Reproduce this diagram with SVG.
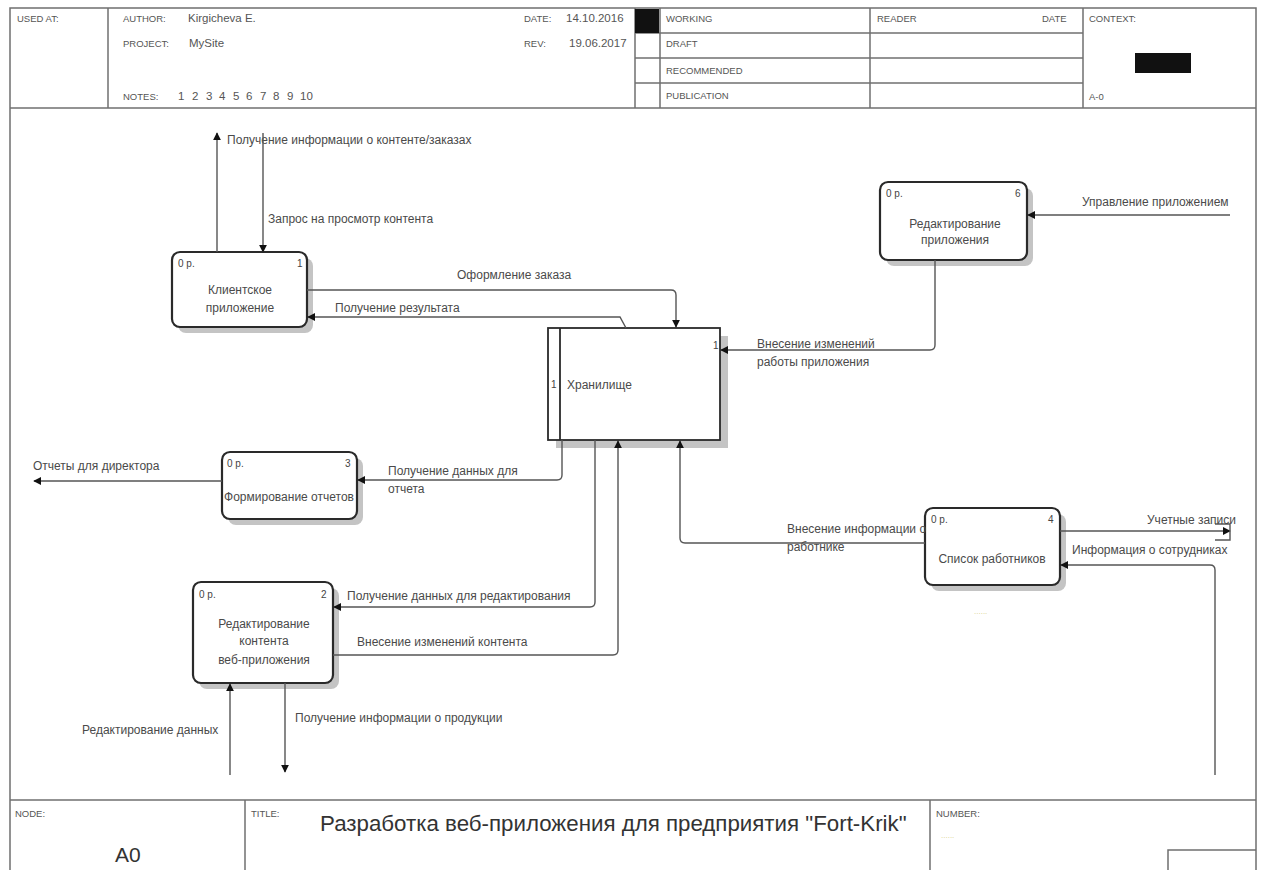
<svg xmlns="http://www.w3.org/2000/svg" width="1265" height="870" viewBox="0 0 1265 870">
  <style>
    .frame { fill: none; stroke: #6f6f6f; stroke-width: 1.5; }
    .hdr { font-family: "Liberation Sans", Arial, sans-serif; font-size: 9.5px; fill: #555; }
    .val { font-family: "Liberation Sans", Arial, sans-serif; font-size: 11.5px; fill: #555; }
    .lbl { font-family: "Liberation Sans", Arial, sans-serif; font-size: 12px; fill: #4a4a4a; }
    .box { fill: #fff; stroke: #2a2a2a; stroke-width: 2.2; }
    .shadow { fill: #c4c4c4; }
    .corner { font-family: "Liberation Sans", Arial, sans-serif; font-size: 10px; fill: #444; }
    .name { font-family: "Liberation Sans", Arial, sans-serif; font-size: 12px; fill: #4a4a4a; text-anchor: middle; }
    .wire { fill: none; stroke: #555; stroke-width: 1.4; }
    .tiny { font-family: "Liberation Sans", Arial, sans-serif; font-size: 8px; fill: #d8cf8a; }
  </style>
  <defs>
    <marker id="arrow" viewBox="0 0 10 10" refX="9" refY="5" markerWidth="8" markerHeight="8" orient="auto" markerUnits="userSpaceOnUse">
      <path d="M0,0 L10,5 L0,10 z" fill="#111"/>
    </marker>
  </defs>

  <rect width="1265" height="870" fill="#fff"/>

  <!-- frame, header and footer -->
  <g id="frame">
    <path class="frame" d="M10,870 V8 H1256 V870"/>
    <line class="frame" x1="10" y1="108" x2="1256" y2="108"/>
    <line class="frame" x1="108" y1="8" x2="108" y2="108"/>
    <line class="frame" x1="635" y1="8" x2="635" y2="108"/>
    <line class="frame" x1="660" y1="8" x2="660" y2="108"/>
    <line class="frame" x1="870" y1="8" x2="870" y2="108"/>
    <line class="frame" x1="1083" y1="8" x2="1083" y2="108"/>
    <line class="frame" x1="635" y1="33" x2="1083" y2="33"/>
    <line class="frame" x1="635" y1="58" x2="1083" y2="58"/>
    <line class="frame" x1="635" y1="83" x2="1083" y2="83"/>
    <rect x="635" y="9" width="24" height="24" fill="#111"/>
    <rect x="1135" y="53" width="56" height="20" fill="#111"/>

    <text class="hdr" x="17" y="22">USED AT:</text>
    <text class="hdr" x="123" y="22">AUTHOR:</text>
    <text class="val" x="188" y="22">Kirgicheva E.</text>
    <text class="hdr" x="123" y="47">PROJECT:</text>
    <text class="val" x="189" y="47">MySite</text>
    <text class="hdr" x="123" y="100">NOTES:</text>
    <g class="val">
      <text x="178" y="100">1</text><text x="192" y="100">2</text><text x="206" y="100">3</text>
      <text x="219" y="100">4</text><text x="233" y="100">5</text><text x="246" y="100">6</text>
      <text x="260" y="100">7</text><text x="273" y="100">8</text><text x="287" y="100">9</text>
      <text x="300" y="100">10</text>
    </g>
    <text class="hdr" x="524" y="22">DATE:</text>
    <text class="val" x="566" y="22">14.10.2016</text>
    <text class="hdr" x="524" y="47">REV:</text>
    <text class="val" x="569" y="47">19.06.2017</text>
    <text class="hdr" x="666" y="22">WORKING</text>
    <text class="hdr" x="666" y="47">DRAFT</text>
    <text class="hdr" x="666" y="74">RECOMMENDED</text>
    <text class="hdr" x="666" y="99">PUBLICATION</text>
    <text class="hdr" x="877" y="22">READER</text>
    <text class="hdr" x="1042" y="22">DATE</text>
    <text class="hdr" x="1089" y="22">CONTEXT:</text>
    <text class="hdr" x="1089" y="100">A-0</text>

    <line class="frame" x1="10" y1="800" x2="1256" y2="800"/>
    <line class="frame" x1="245" y1="800" x2="245" y2="870"/>
    <line class="frame" x1="930" y1="800" x2="930" y2="870"/>
    <path class="frame" d="M1168,870 V850 H1256"/>
    <text class="hdr" x="15" y="817">NODE:</text>
    <text x="115" y="862" font-family="Liberation Sans, Arial, sans-serif" font-size="21" fill="#333">A0</text>
    <text class="hdr" x="251" y="817">TITLE:</text>
    <text x="320" y="831" font-family="Liberation Sans, Arial, sans-serif" font-size="22.3" fill="#333">Разработка веб-приложения для предприятия "Fort-Krik"</text>
    <text class="hdr" x="936" y="817">NUMBER:</text>
    <text class="tiny" x="941" y="838">......</text>
  </g>

  <!-- node 1 -->
  <g id="node-client-app">
    <rect class="shadow" x="178" y="258" width="135" height="75" rx="8"/>
    <rect class="box" x="172" y="252" width="135" height="75" rx="8"/>
    <text class="corner" x="178" y="267">0 р.</text>
    <text class="corner" x="297" y="267">1</text>
    <text class="name" x="240" y="294">Клиентское</text>
    <text class="name" x="240" y="312">приложение</text>
  </g>

  <!-- storage -->
  <g id="node-storage">
    <rect class="shadow" x="556" y="336" width="172" height="112"/>
    <rect x="548" y="328" width="172" height="112" fill="#fff" stroke="#2a2a2a" stroke-width="1.8"/>
    <line x1="560" y1="328" x2="560" y2="440" stroke="#2a2a2a" stroke-width="1.8"/>
    <text class="corner" x="551" y="388" font-size="8">1</text>
    <text class="corner" x="713" y="349" font-size="8">1</text>
    <text class="lbl" x="567" y="389">Хранилище</text>
  </g>

  <!-- node 6 -->
  <g id="node-app-editing">
    <rect class="shadow" x="886" y="188" width="147" height="78" rx="8"/>
    <rect class="box" x="880" y="182" width="147" height="78" rx="8"/>
    <text class="corner" x="886" y="197">0 р.</text>
    <text class="corner" x="1015" y="197">6</text>
    <text class="name" x="955" y="228">Редактирование</text>
    <text class="name" x="955" y="244">приложения</text>
  </g>

  <!-- node 3 -->
  <g id="node-reports">
    <rect class="shadow" x="228" y="458" width="135" height="67" rx="8"/>
    <rect class="box" x="222" y="452" width="135" height="67" rx="8"/>
    <text class="corner" x="227" y="467">0 р.</text>
    <text class="corner" x="345" y="467">3</text>
    <text class="name" x="289" y="501">Формирование отчетов</text>
  </g>

  <!-- node 2 -->
  <g id="node-content-editing">
    <rect class="shadow" x="199" y="588" width="140" height="101" rx="8"/>
    <rect class="box" x="193" y="582" width="140" height="101" rx="8"/>
    <text class="corner" x="199" y="598">0 р.</text>
    <text class="corner" x="321" y="598">2</text>
    <text class="name" x="264" y="628">Редактирование</text>
    <text class="name" x="264" y="645">контента</text>
    <text class="name" x="264" y="664">веб-приложения</text>
  </g>

  <!-- node 4 -->
  <g id="node-staff-list">
    <rect class="shadow" x="931" y="514" width="135" height="77" rx="8"/>
    <rect class="box" x="925" y="508" width="135" height="77" rx="8"/>
    <text class="corner" x="931" y="523">0 р.</text>
    <text class="corner" x="1048" y="523">4</text>
    <text class="name" x="992" y="563">Список работников</text>
    <text class="tiny" x="974" y="614">......</text>
  </g>

  <!-- connectors -->
  <g id="connectors">
    <path class="wire" d="M217,252 V133" marker-end="url(#arrow)"/>
    <text class="lbl" x="227" y="144">Получение информации о контенте/заказах</text>
    <path class="wire" d="M263,133 V252" marker-end="url(#arrow)"/>
    <text class="lbl" x="268" y="223">Запрос на просмотр контента</text>

    <path class="wire" d="M307,290 H671 Q676,290 676,295 V327" marker-end="url(#arrow)"/>
    <text class="lbl" x="457" y="279">Оформление заказа</text>
    <path class="wire" d="M626,328 L620,317 H308" marker-end="url(#arrow)"/>
    <text class="lbl" x="335" y="312">Получение результата</text>

    <path class="wire" d="M935,260 V345 Q935,350 930,350 H721" marker-end="url(#arrow)"/>
    <text class="lbl" x="757" y="348">Внесение изменений</text>
    <text class="lbl" x="757" y="366">работы приложения</text>
    <path class="wire" d="M1230,215 H1028" marker-end="url(#arrow)"/>
    <text class="lbl" x="1082" y="206">Управление приложением</text>

    <path class="wire" d="M562,440 V475 Q562,480 557,480 H358" marker-end="url(#arrow)"/>
    <text class="lbl" x="388" y="475">Получение данных для</text>
    <text class="lbl" x="388" y="493">отчета</text>
    <path class="wire" d="M222,481 H34" marker-end="url(#arrow)"/>
    <text class="lbl" x="33" y="470">Отчеты для директора</text>

    <path class="wire" d="M595,440 V602 Q595,607 590,607 H334" marker-end="url(#arrow)"/>
    <text class="lbl" x="347" y="600">Получение данных для редактирования</text>
    <path class="wire" d="M333,655 H613 Q618,655 618,650 V441" marker-end="url(#arrow)"/>
    <text class="lbl" x="357" y="646">Внесение изменений контента</text>

    <path class="wire" d="M925,543 H685 Q680,543 680,538 V441" marker-end="url(#arrow)"/>
    <text class="lbl" x="787" y="533">Внесение информации о</text>
    <text class="lbl" x="787" y="551">работнике</text>

    <path class="wire" d="M1060,531 H1230" marker-end="url(#arrow)"/>
    <path class="wire" d="M1215,524 H1230 V540 H1215"/>
    <text class="lbl" x="1147" y="524">Учетные записи</text>
    <path class="wire" d="M1215,775 V570 Q1215,565 1210,565 H1061" marker-end="url(#arrow)"/>
    <text class="lbl" x="1072" y="554">Информация о сотрудниках</text>

    <path class="wire" d="M230,775 V684" marker-end="url(#arrow)"/>
    <text class="lbl" x="82" y="734">Редактирование данных</text>
    <path class="wire" d="M285,683 V772" marker-end="url(#arrow)"/>
    <text class="lbl" x="295" y="722">Получение информации о продукции</text>
  </g>
</svg>
